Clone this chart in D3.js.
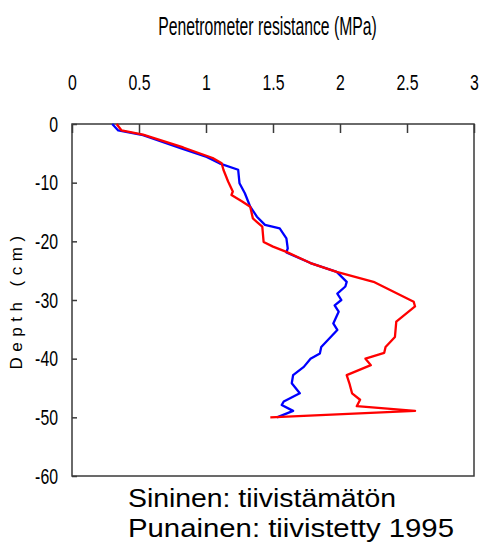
<!DOCTYPE html>
<html>
<head>
<meta charset="utf-8">
<script src="https://cdn.jsdelivr.net/npm/d3@7"></script>
<style>
  body { margin: 0; background: #fff; }
  svg { display: block; }
</style>
</head>
<body>
<svg id="chart" width="479" height="547"></svg>
<script>
// depth in cm (negative downwards), resistance in MPa
const blueDepth = [0, -1.1, -1.9, -4.1, -5.6, -6.7, -7.8, -10.1, -11.8, -14.1, -15.8, -17.2, -17.8, -19.5, -21.2, -21.9, -23.7, -25.2, -26.9, -27.7, -28.9, -30.0, -30.9, -32.0, -34.0, -35.1, -38.0, -39.1, -40.0, -41.4, -42.8, -44.2, -45.9, -47.3, -47.9, -48.9, -50.0];
const blueMPa = [0.30, 0.345, 0.53, 0.81, 1.005, 1.10, 1.24, 1.25, 1.29, 1.33, 1.38, 1.44, 1.55, 1.60, 1.61, 1.60, 1.78, 1.975, 2.05, 2.04, 1.98, 2.01, 1.96, 1.99, 1.95, 1.98, 1.86, 1.85, 1.78, 1.73, 1.65, 1.64, 1.70, 1.58, 1.565, 1.65, 1.53];

const redDepth = [0, -1.1, -1.8, -4.0, -5.8, -6.7, -7.8, -9.8, -11.5, -12.1, -13.2, -14.1, -16.1, -17.5, -20.1, -20.9, -21.8, -23.7, -25.2, -26.9, -30.3, -31.1, -33.7, -36.3, -38.0, -39.0, -40.0, -41.1, -42.8, -44.2, -45.9, -47.0, -48.1, -48.9, -50.0];
const redMPa = [0.333, 0.37, 0.53, 0.83, 1.05, 1.117, 1.13, 1.165, 1.20, 1.19, 1.27, 1.33, 1.35, 1.42, 1.43, 1.50, 1.60, 1.78, 1.975, 2.25, 2.55, 2.56, 2.42, 2.41, 2.34, 2.33, 2.19, 2.23, 2.05, 2.07, 2.09, 2.15, 2.125, 2.56, 1.48];

const xTicks = [0, 0.5, 1, 1.5, 2, 2.5, 3];
const yTicks = [0, -10, -20, -30, -40, -50, -60];

const titleText = 'Penetrometer resistance (MPa)';
const yLabelText = 'Depth (cm)';
const legendLines = ['Sininen: tiivistämätön', 'Punainen: tiivistetty 1995'];

const margin = {top: 124, right: 5, bottom: 71, left: 72};
const width = 479, height = 547;
const font = '"Liberation Sans", Arial, sans-serif';
const squeeze = 0.72; // tick labels are condensed in the original

const svg = d3.select('#chart');

const x = d3.scaleLinear()
    .domain([0, 3])
    .range([margin.left, width - margin.right]);

const y = d3.scaleLinear()
    .domain([-60, 0])
    .range([height - margin.bottom, margin.top]);

// frame
svg.append('rect')
    .attr('x', x(0))
    .attr('y', y(0))
    .attr('width', x(3) - x(0))
    .attr('height', y(-60) - y(0))
    .attr('fill', 'none')
    .attr('stroke', '#3a3a3a')
    .attr('stroke-width', 1.5);

// top axis, ticks pointing into the plot
const xAxis = svg.append('g')
    .attr('transform', `translate(0, ${y(0)})`)
    .call(d3.axisTop(x).tickValues(xTicks).tickSize(-9).tickPadding(34).tickFormat(d => String(d)));
xAxis.select('.domain').remove();
xAxis.selectAll('line').attr('stroke', '#3a3a3a').attr('stroke-width', 1.5);
xAxis.selectAll('text')
    .attr('fill', '#000')
    .attr('transform', `scale(${squeeze}, 1)`)
    .style('font-family', font)
    .style('font-size', '22px');

// left axis
const yAxis = svg.append('g')
    .attr('transform', `translate(${x(0)}, 0)`)
    .call(d3.axisLeft(y).tickValues(yTicks).tickSize(-5).tickPadding(14).tickFormat(d => String(d)));
yAxis.select('.domain').remove();
yAxis.selectAll('line').attr('stroke', '#3a3a3a').attr('stroke-width', 1.5);
yAxis.selectAll('text')
    .attr('fill', '#000')
    .attr('x', -14 / squeeze)
    .attr('transform', `scale(${squeeze}, 1)`)
    .style('font-family', font)
    .style('font-size', '22px');

// title, condensed like the tick labels
svg.append('text')
    .attr('transform', 'translate(267.5, 35) scale(0.63, 1)')
    .attr('text-anchor', 'middle')
    .style('font-family', font)
    .style('font-size', '25px')
    .text(titleText);

// y label
svg.append('text')
    .attr('transform', `translate(22, ${(y(0) + y(-60)) / 2}) rotate(-90)`)
    .attr('text-anchor', 'middle')
    .style('font-family', font)
    .style('font-size', '17px')
    .style('letter-spacing', '5.5px')
    .text(yLabelText);

const line = d3.line()
    .x(d => x(d[0]))
    .y(d => y(d[1]));

const series = [
    {values: blueMPa, depth: blueDepth, color: '#0000ff'},
    {values: redMPa, depth: redDepth, color: '#ff0000'}
];

series.forEach(s => {
    svg.append('path')
        .datum(d3.zip(s.values, s.depth))
        .attr('fill', 'none')
        .attr('stroke', s.color)
        .attr('stroke-width', 2.3)
        .attr('stroke-linejoin', 'round')
        .attr('d', line);
});

// legend text
const legendWidths = [268, 326];
legendLines.forEach((t, i) => {
    svg.append('text')
        .attr('x', 128)
        .attr('y', 507 + i * 30)
        .attr('textLength', legendWidths[i])
        .attr('lengthAdjust', 'spacingAndGlyphs')
        .style('font-family', font)
        .style('font-size', '25px')
        .text(t);
});
</script>
</body>
</html>
